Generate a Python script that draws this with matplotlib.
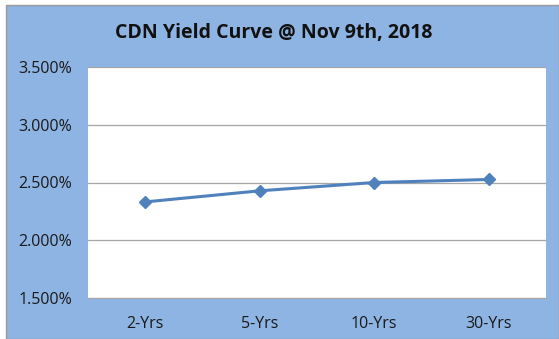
import matplotlib
matplotlib.use("Agg")
import matplotlib.pyplot as plt
from matplotlib.patches import Rectangle
from matplotlib.ticker import FuncFormatter

categories = ["2-Yrs", "5-Yrs", "10-Yrs", "30-Yrs"]
yields = [2.332, 2.428, 2.500, 2.526]
yticks = [1.5, 2.0, 2.5, 3.0, 3.5]
title = "CDN Yield Curve @ Nov 9th, 2018"

W, H = 559, 339
fig = plt.figure(figsize=(W / 100, H / 100), dpi=100)
fig.patch.set_facecolor("white")

bg = "#8EB4E3"
fig.patches.append(Rectangle((6 / W, 0), 1 - 6 / W, 1 - 5 / H, transform=fig.transFigure,
                             facecolor=bg, edgecolor="#9a9a9a", linewidth=1.0, zorder=-10))

ax = fig.add_axes([88 / W, 1 - 298 / H, (546 - 88) / W, (298 - 67) / H])
ax.set_zorder(1)
ax.set_facecolor("white")
x = list(range(len(categories)))
ax.plot(x, yields, color="#4F81BD", linewidth=2.2, marker="D", markersize=6,
        markerfacecolor="#4F81BD", markeredgecolor="#4F81BD", zorder=3)
ax.set_xlim(-0.5, len(categories) - 0.5)
ax.set_ylim(yticks[0], yticks[-1])
ax.set_yticks(yticks)
ax.yaxis.set_major_formatter(FuncFormatter(lambda v, p: f"{v:.3f}%"))
ax.set_xticks(x)
ax.set_xticklabels(categories)
ax.grid(axis="y", color="#A6A6A6", linewidth=0.9)
ax.set_axisbelow(True)
for s in ["top", "right", "left"]:
    ax.spines[s].set_visible(False)
ax.spines["bottom"].set_color("#A6A6A6")
ax.tick_params(axis="y", length=0, pad=11.5, labelsize=11.5, labelcolor="#1a1a1a")
ax.tick_params(axis="x", length=0, pad=13, labelsize=11.5, labelcolor="#1a1a1a")
for lab in ax.get_xticklabels() + ax.get_yticklabels():
    lab.set_fontfamily("Open Sans")

fig.text(274 / W, 1 - 33 / H, title, ha="center", va="center", fontsize=14,
         fontweight="bold", family="Open Sans", color="#111111")

fig.savefig("out.png", dpi=100, facecolor=fig.get_facecolor())
